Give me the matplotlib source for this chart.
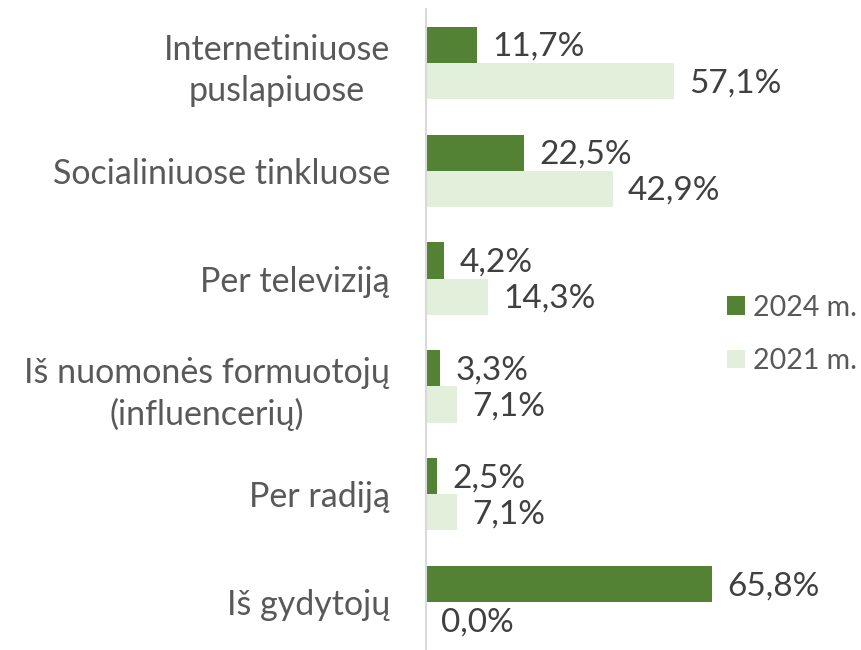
import matplotlib
matplotlib.use('Agg')
import matplotlib.pyplot as plt
import numpy as np

categories = ["Internetiniuose\npuslapiuose", "Socialiniuose tinkluose", "Per televiziją",
              "Iš nuomonės formuotojų\n(influencerių)", "Per radiją", "Iš gydytojų"]
v2024 = [11.7, 22.5, 4.2, 3.3, 2.5, 65.8]
v2021 = [57.1, 42.9, 14.3, 7.1, 7.1, 0.0]
labels = ["2024 m.", "2021 m."]

plt.rcParams['font.family'] = ['Lato', 'DejaVu Sans']

fig = plt.figure(figsize=(8.61, 6.5), dpi=100)
# axes runs slightly past the bottom edge, like the original
ax = fig.add_axes([426 / 861, -6 / 650, 435 / 861, 647 / 650])

y = np.arange(len(categories))
h = 0.336
b1 = ax.barh(y - h / 2, v2024, height=h, color='#548235', label=labels[0])
b2 = ax.barh(y + h / 2, v2021, height=h, color='#E2EFDA', label=labels[1])

ax.set_xlim(0, 100)
ax.set_ylim(len(categories) - 0.5, -0.5)

for bars, vals in ((b1, v2024), (b2, v2021)):
    for bar, v in zip(bars, vals):
        ax.text(v + 3.5, bar.get_y() + bar.get_height() / 2 + 0.02, f"{v:.1f}%".replace('.', ','),
                va='center', ha='left', fontsize=24, color='#404040')

ax.set_yticks(y)
ax.set_yticklabels(categories, fontsize=24.5, color='#595959', multialignment='center',
                   linespacing=1.35)
ax.tick_params(axis='y', length=0, pad=26)
ax.set_xticks([])
for s in ['top', 'right', 'bottom']:
    ax.spines[s].set_visible(False)
ax.spines['left'].set_color('#D9D9D9')
ax.spines['left'].set_linewidth(1.5)

leg = ax.legend(loc='center left', bbox_to_anchor=(301 / 435, 0.497), frameon=False,
                fontsize=20.5, handlelength=0.63, handleheight=0.63, labelspacing=0.96,
                handletextpad=0.3, borderpad=0, borderaxespad=0, labelcolor='#595959')

fig.savefig('out.png', dpi=100)
